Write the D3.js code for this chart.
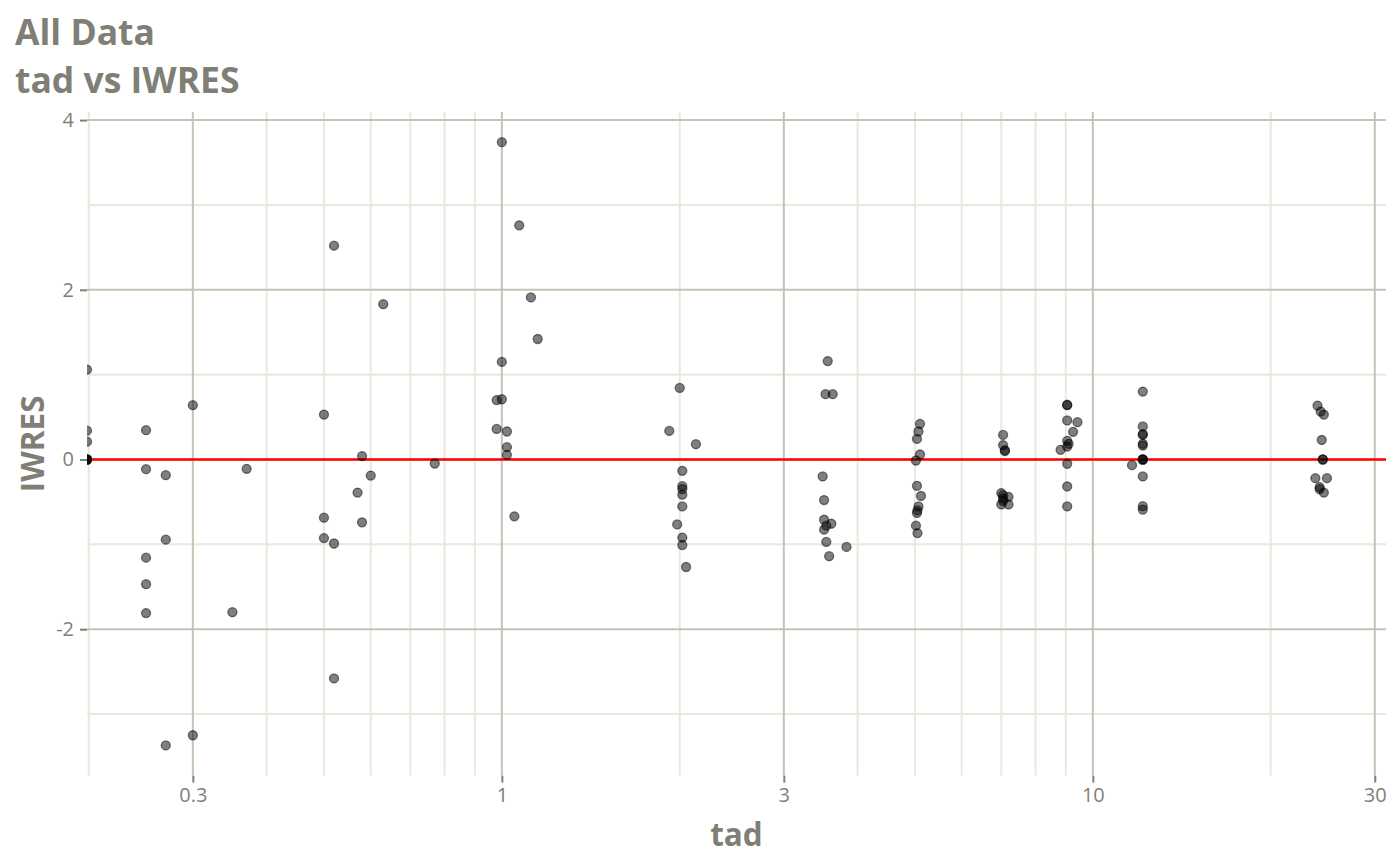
<!DOCTYPE html>
<html>
<head>
<meta charset="utf-8">
<script src="https://cdn.jsdelivr.net/npm/d3@7"></script>
<style>
html,body{margin:0;padding:0;background:#fff;}
svg{display:block;font-family:"Open Sans","Noto Sans",sans-serif;}
</style>
</head>
<body>
<svg id="chart" width="1400" height="866"></svg>
<script>
// ---- data (tad = 0 points are drawn at the left panel edge, like -Inf on a log scale)
const tadValues = [
  0, 0, 0, 0, 0, 0, 0,
  0.25, 0.25, 0.25, 0.25, 0.25,
  0.27, 0.27, 0.27,
  0.30, 0.30,
  0.35, 0.37,
  0.50, 0.50, 0.50,
  0.52, 0.52, 0.52,
  0.57, 0.58, 0.58, 0.60, 0.63, 0.77,
  0.98, 0.98,
  1.00, 1.00, 1.00,
  1.02, 1.02, 1.02,
  1.05, 1.07, 1.12, 1.15,
  1.92, 1.98, 2.00,
  2.02, 2.02, 2.02, 2.02, 2.02, 2.02, 2.02,
  2.05, 2.13,
  3.49, 3.51, 3.51, 3.51, 3.53, 3.54, 3.54, 3.56, 3.58, 3.61, 3.63, 3.83,
  5.02, 5.02, 5.04, 5.04, 5.04, 5.05, 5.05, 5.07, 5.07, 5.10, 5.10, 5.12,
  7.0, 7.0, 7.05, 7.05, 7.05, 7.05, 7.05, 7.1, 7.1, 7.2, 7.2,
  8.82, 9.05, 9.05, 9.05, 9.05, 9.05, 9.05, 9.05, 9.05, 9.1, 9.26, 9.42,
  11.65, 12.15, 12.15, 12.15, 12.15, 12.15, 12.15, 12.15, 12.15, 12.15, 12.15, 12.15, 12.15,
  24.0, 24.3, 24.6, 24.4, 24.5, 24.5, 23.8, 24.9, 24.2, 24.2, 24.6
];
const iwresValues = [
  1.06, 0.34, 0.21, 0, 0, 0, 0,
  0.345, -0.114, -1.157, -1.47, -1.81,
  -0.185, -0.945, -3.37,
  0.64, -3.25,
  -1.80, -0.11,
  0.53, -0.686, -0.926,
  2.52, -0.99, -2.58,
  -0.39, 0.04, -0.74, -0.19, 1.83, -0.047,
  0.70, 0.36,
  3.74, 1.15, 0.71,
  0.33, 0.145, 0.055,
  -0.67, 2.76, 1.91, 1.42,
  0.337, -0.765, 0.843,
  -0.133, -0.314, -0.349, -0.415, -0.553, -0.92, -1.008,
  -1.267, 0.18,
  -0.20, -0.478, -0.71, -0.827, 0.77, -0.78, -0.972, 1.16, -1.14, -0.757, 0.77, -1.03,
  -0.012, -0.78, 0.243, -0.31, -0.63, -0.60, -0.867, 0.33, -0.553, 0.42, 0.059, -0.43,
  -0.396, -0.53, 0.29, 0.17, -0.42, -0.46, -0.49, 0.098, 0.11, -0.44, -0.53,
  0.114, 0.64, 0.645, 0.46, 0.22, 0.153, -0.05, -0.318, -0.553, 0.185, 0.326, 0.44,
  -0.067, 0.80, 0.39, 0.29, 0.30, 0.185, 0.165, 0, 0, 0, -0.20, -0.55, -0.59,
  0.635, 0.565, 0.53, 0.23, 0, 0, -0.22, -0.22, -0.325, -0.35, -0.39
];
const xTickValues = [0.3, 1, 3, 10, 30];
const xMinorValues = [0.2, 0.4, 0.5, 0.6, 0.7, 0.8, 0.9, 2, 4, 5, 6, 7, 8, 9, 20];
const yTickValues = [-2, 0, 2, 4];
const yMinorValues = [-3, -1, 1, 3];
const titleLines = ["All Data", "tad vs IWRES"];
const xTitle = "tad";
const yTitle = "IWRES";

// ---- layout
const W = 1400, H = 866;
const panel = {left: 87, right: 1386, top: 112, bottom: 775.6};
const textCol = "#7f7f76";
const majorCol = "#c3c3b6";
const minorCol = "#e8e8dc";

const svg = d3.select("#chart");

// domains: data range expanded by 5% (log space for x)
const posTad = tadValues.filter(v => v > 0);
const lx = d3.extent(posTad).map(Math.log10);
const ex = (lx[1] - lx[0]) * 0.05;
const yExt = d3.extent(iwresValues);
const ey = (yExt[1] - yExt[0]) * 0.05;

const x = d3.scaleLog()
  .domain([Math.pow(10, lx[0] - ex), Math.pow(10, lx[1] + ex)])
  .range([panel.left, panel.right]);
const y = d3.scaleLinear()
  .domain([yExt[0] - ey, yExt[1] + ey])
  .range([panel.bottom, panel.top]);

const xPos = v => v > 0 ? x(v) : panel.left;

svg.append("defs").append("clipPath").attr("id", "clip")
  .append("rect")
  .attr("x", panel.left).attr("y", panel.top)
  .attr("width", panel.right - panel.left).attr("height", panel.bottom - panel.top);

const grid = svg.append("g");
// minor grid
grid.selectAll(".ym").data(yMinorValues).join("line")
  .attr("x1", panel.left).attr("x2", panel.right)
  .attr("y1", d => y(d)).attr("y2", d => y(d))
  .attr("stroke", minorCol).attr("stroke-width", 2);
grid.selectAll(".xm").data(xMinorValues).join("line")
  .attr("y1", panel.top).attr("y2", panel.bottom)
  .attr("x1", d => x(d)).attr("x2", d => x(d))
  .attr("stroke", minorCol).attr("stroke-width", 2);
// major grid
grid.selectAll(".yM").data(yTickValues).join("line")
  .attr("x1", panel.left).attr("x2", panel.right)
  .attr("y1", d => y(d)).attr("y2", d => y(d))
  .attr("stroke", majorCol).attr("stroke-width", 2);
grid.selectAll(".xM").data(xTickValues).join("line")
  .attr("y1", panel.top).attr("y2", panel.bottom)
  .attr("x1", d => x(d)).attr("x2", d => x(d))
  .attr("stroke", majorCol).attr("stroke-width", 2);

// axes
const xAxis = d3.axisBottom(x).tickValues(xTickValues)
  .tickFormat(d3.format("~g")).tickSize(7).tickPadding(5);
const gx = svg.append("g").attr("transform", `translate(0,${panel.bottom})`).call(xAxis);
const yAxis = d3.axisLeft(y).tickValues(yTickValues)
  .tickFormat(d3.format("d")).tickSize(7).tickPadding(6);
const gy = svg.append("g").attr("transform", `translate(${panel.left},0)`).call(yAxis);
[gx, gy].forEach(g => {
  g.select(".domain").remove();
  g.selectAll(".tick line").attr("stroke", "#7f7f7f").attr("stroke-width", 2);
  g.selectAll(".tick text").attr("fill", textCol).attr("font-size", 20)
    .attr("font-family", "'Open Sans','Noto Sans',sans-serif");
});
gy.selectAll(".tick text").text(d => d < 0 ? "-" + Math.abs(d) : d);

// zero reference line
svg.append("line")
  .attr("x1", panel.left).attr("x2", panel.right)
  .attr("y1", y(0)).attr("y2", y(0))
  .attr("stroke", "red").attr("stroke-width", 2.6);

// points
const pts = tadValues.map((t, i) => ({tad: t, iwres: iwresValues[i]}));
svg.append("g").attr("clip-path", "url(#clip)")
  .selectAll("circle").data(pts).join("circle")
  .attr("cx", d => xPos(d.tad))
  .attr("cy", d => y(d.iwres))
  .attr("r", 4.5)
  .attr("fill", "black").attr("fill-opacity", 0.5)
  .attr("stroke", "black").attr("stroke-opacity", 0.5).attr("stroke-width", 1.3);

// titles
svg.append("g").selectAll("text").data(titleLines).join("text")
  .attr("x", 15).attr("y", (d, i) => 45 + i * 48)
  .attr("fill", textCol).attr("font-weight", 700).attr("font-size", 35.5)
  .text(d => d);

svg.append("text")
  .attr("x", (panel.left + panel.right) / 2).attr("y", 846)
  .attr("text-anchor", "middle")
  .attr("fill", textCol).attr("font-weight", 700).attr("font-size", 31.5)
  .text(xTitle);

svg.append("text")
  .attr("transform", `translate(44,${(panel.top + panel.bottom) / 2}) rotate(-90)`)
  .attr("text-anchor", "middle")
  .attr("fill", textCol).attr("font-weight", 700).attr("font-size", 31.5)
  .text(yTitle);
</script>
</body>
</html>
